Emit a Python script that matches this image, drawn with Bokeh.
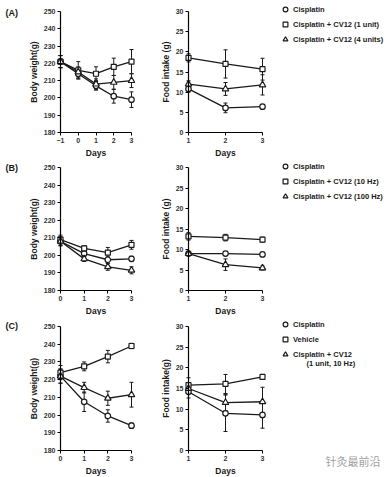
from bokeh.plotting import figure
from bokeh.models import (ColumnDataSource, Whisker, TeeHead, Legend, LegendItem,
                          Label, FixedTicker, Range1d)
from bokeh.layouts import column, row
from bokeh.embed import file_html
from bokeh.resources import INLINE

# ---------------- data ----------------
days_A_w = [-1, 0, 1, 2, 3]
days_w = [0, 1, 2, 3]
days_f = [1, 2, 3]

# Panel A body weight
A_cis_w = [221, 214, 207, 201, 199]
A_cis_w_err = [3.5, 3, 2.5, 4, 4.5]
A_cv1_w = [221, 216, 214, 218, 221]
A_cv1_w_err = [3.5, 5, 4, 5, 7]
A_cv4_w = [221, 215, 208, 209, 210]
A_cv4_w_err = [3.5, 3, 3, 4, 4]
# Panel A food intake
A_cis_f = [10.8, 6.1, 6.4]
A_cis_f_err = [0.8, 1.2, 0.5]
A_cv1_f = [18.5, 17.0, 15.7]
A_cv1_f_err = [1.0, 3.5, 2.7]
A_cv4_f = [12.0, 10.8, 11.8]
A_cv4_f_err = [0.8, 1.6, 2.5]

# Panel B body weight
B_cis_w = [208, 201, 197.5, 198]
B_cis_w_err = [2.5, 1.5, 2, 1.5]
B_cv10_w = [209, 204, 201.5, 206]
B_cv10_w_err = [2.5, 1.5, 3, 2.5]
B_cv100_w = [208, 198, 193.5, 191.5]
B_cv100_w_err = [2.5, 1.5, 2, 2]
# Panel B food intake
B_cis_f = [9.0, 9.0, 8.8]
B_cis_f_err = [0.5, 0.5, 0.4]
B_cv10_f = [13.2, 12.9, 12.4]
B_cv10_f_err = [0.9, 0.8, 0.6]
B_cv100_f = [9.0, 6.3, 5.5]
B_cv100_f_err = [0.5, 1.4, 0.5]

# Panel C body weight
C_cis_w = [222, 207.5, 199.5, 194]
C_cis_w_err = [4, 5.5, 3.5, 1.5]
C_veh_w = [224, 227.5, 233, 239]
C_veh_w_err = [4, 2.5, 3.5, 1.5]
C_cv_w = [222, 215.5, 209.5, 211.5]
C_cv_w_err = [4, 3, 4, 7]
# Panel C food intake
C_cis_f = [14.2, 9.0, 8.6]
C_cis_f_err = [1.5, 4.4, 3.2]
C_veh_f = [15.8, 16.1, 17.8]
C_veh_f_err = [1.8, 2.3, 0.5]
C_cv_f = [15.0, 11.6, 11.8]
C_cv_f_err = [1.2, 2.0, 3.5]

w_ticks = [180, 190, 200, 210, 220, 230, 240, 250]
f_ticks = [0, 5, 10, 15, 20, 25, 30]

legend_A = ["Cisplatin", "Cisplatin + CV12 (1 unit)", "Cisplatin + CV12 (4 units)"]
legend_B = ["Cisplatin", "Cisplatin + CV12 (10 Hz)", "Cisplatin + CV12 (100 Hz)"]
legend_C = ["Cisplatin", "Vehicle", "Cisplatin + CV12"]
legend_C_extra = "(1 unit, 10 Hz)"
watermark = "针灸最前沿"

# ---------------- styling ----------------
FONT = "Liberation Sans"
INK = "#1a1a1a"
MARKERS = ["circle", "square", "triangle"]
MSIZE = {"circle": 5.5, "square": 5, "triangle": 6.5}


def make_fig(w, h, xr, yr, xticks, yticks, xbounds, ybounds, xfix, yfix, ylabel):
    p = figure(width=w, height=h, x_range=Range1d(*xr), y_range=Range1d(*yr),
               output_backend="svg", toolbar_location=None,
               min_border_left=0, min_border_right=0,
               min_border_top=0, min_border_bottom=0)
    p.outline_line_color = None
    p.grid.visible = False
    p.background_fill_color = "white"
    p.border_fill_color = "white"
    p.xaxis.ticker = FixedTicker(ticks=xticks)
    p.yaxis.ticker = FixedTicker(ticks=yticks)
    p.xaxis.bounds = xbounds
    p.yaxis.bounds = ybounds
    p.yaxis.fixed_location = xfix
    p.xaxis.fixed_location = yfix
    p.xaxis.axis_label = "Days"
    p.yaxis.axis_label = ylabel
    for ax in (p.xaxis, p.yaxis):
        ax.axis_line_color = "black"
        ax.axis_line_width = 1.2
        ax.major_tick_line_color = "black"
        ax.major_tick_line_width = 1
        ax.major_tick_out = 3
        ax.major_tick_in = 0
        ax.minor_tick_line_color = None
        ax.major_label_text_font = FONT
        ax.major_label_text_font_size = "7px"
        ax.major_label_text_font_style = "bold"
        ax.major_label_text_color = "#333333"
        ax.major_label_standoff = 2
        ax.axis_label_text_font = FONT
        ax.axis_label_text_font_size = "8.5px"
        ax.axis_label_text_font_style = "bold"
        ax.axis_label_text_color = INK
        ax.axis_label_standoff = 2
    return p


def add_series(p, x, ys, errs):
    rends = []
    for y, e, m in zip(ys, errs, MARKERS):
        src = ColumnDataSource(dict(x=x, y=y,
                                    lo=[a - b for a, b in zip(y, e)],
                                    hi=[a + b for a, b in zip(y, e)]))
        wh = Whisker(source=src, base="x", lower="lo", upper="hi",
                     line_color=INK, line_width=1,
                     lower_head=TeeHead(size=4, line_color=INK, line_width=1),
                     upper_head=TeeHead(size=4, line_color=INK, line_width=1))
        p.add_layout(wh)
        p.line("x", "y", source=src, line_color=INK, line_width=1.3)
        r = p.scatter("x", "y", source=src, marker=m, size=MSIZE[m],
                      fill_color="white", line_color=INK, line_width=1.2)
        rends.append(r)
    return rends


def add_legend(p, rends, labels, vx, vy):
    items = [LegendItem(label=l, renderers=[r]) for l, r in zip(labels, rends)]
    lg = Legend(items=items, location=(vx, vy), orientation="vertical",
                glyph_width=12, glyph_height=12, label_height=12, spacing=3,
                padding=0, margin=0, label_standoff=2,
                border_line_color=None, background_fill_alpha=0,
                label_text_font=FONT, label_text_font_size="7.5px",
                label_text_font_style="bold", label_text_color=INK)
    p.add_layout(lg)


def screen_label(p, text, x, y, size="9px", font=FONT, color=INK, style="bold"):
    p.add_layout(Label(x=x, y=y, x_units="screen", y_units="screen", text=text,
                       text_font=font, text_font_style=style, text_font_size=size,
                       text_color=color, text_baseline="middle", text_align="left"))


LW, RW = 150, 238

# row: (row top, row bottom, y of 250/30 tick, y of 180/0 axis, x days, first day, tag, ...)
specs = [
    (0, 160, 11, 132, days_A_w, -1,
     [A_cis_w, A_cv1_w, A_cv4_w], [A_cis_w_err, A_cv1_w_err, A_cv4_w_err],
     [A_cis_f, A_cv1_f, A_cv4_f], [A_cis_f_err, A_cv1_f_err, A_cv4_f_err],
     legend_A, "(A)", 12, "Food intake (g)", 9),
    (160, 315, 167, 290, days_w, 0,
     [B_cis_w, B_cv10_w, B_cv100_w], [B_cis_w_err, B_cv10_w_err, B_cv100_w_err],
     [B_cis_f, B_cv10_f, B_cv100_f], [B_cis_f_err, B_cv10_f_err, B_cv100_f_err],
     legend_B, "(B)", 167, "Food intake (g)", 166),
    (315, 476, 326, 450, days_w, 0,
     [C_cis_w, C_veh_w, C_cv_w], [C_cis_w_err, C_veh_w_err, C_cv_w_err],
     [C_cis_f, C_veh_f, C_cv_f], [C_cis_f_err, C_veh_f_err, C_cv_f_err],
     legend_C, "(C)", 325, "Food intake(g)", 324),
]

rows = []
for (top, bot, ytop, ybot, xd, d0, wys, wes, fys, fes, labels, tag, tag_y,
     flabel, leg_y0) in specs:
    h = bot - top
    # ---- body weight panel: x pixels 0..150, first day at 60, day 3 at 131
    pxd = (131 - 60) / (3 - d0)
    xr = (d0 - 60 / pxd, 3 + (LW - 131) / pxd)
    pyg = (ybot - ytop) / 70.0
    yr = (180 - (bot - ybot) / pyg, 250 + (ytop - top) / pyg)
    pw = make_fig(LW, h, xr, yr, xd, w_ticks, (d0, 3), (180, 250), d0, 180,
                  "Body weight(g)")
    add_series(pw, xd, wys, wes)
    screen_label(pw, tag, 5, bot - tag_y)

    # ---- food intake panel: x pixels 150..388, day 1 at 188, day 3 at 262
    pxf = (262 - 188) / 2.0
    xrf = (1 - (188 - LW) / pxf, 3 + (LW + RW - 262) / pxf)
    pyf = (ybot - ytop) / 30.0
    yrf = (0 - (bot - ybot) / pyf, 30 + (ytop - top) / pyf)
    pf = make_fig(RW, h, xrf, yrf, days_f, f_ticks, (1, 3), (0, 30), 1, 0, flabel)
    rf = add_series(pf, days_f, fys, fes)
    leg_top = leg_y0 - 6
    leg_h = len(labels) * 12 + (len(labels) - 1) * 3
    add_legend(pf, rf, labels, 279 - LW, bot - (leg_top + leg_h))
    if tag == "(C)":
        screen_label(pf, legend_C_extra, 306 - LW, bot - 363, size="7.5px")
        screen_label(pf, watermark, 325 - LW, bot - 460, size="11px",
                     font="Noto Sans CJK SC", color="#a0a0a0", style="normal")
    rows.append(row(pw, pf, spacing=0))

layout = column(*rows, spacing=0)

with open("out.html", "w") as f:
    f.write(file_html(layout, INLINE))
